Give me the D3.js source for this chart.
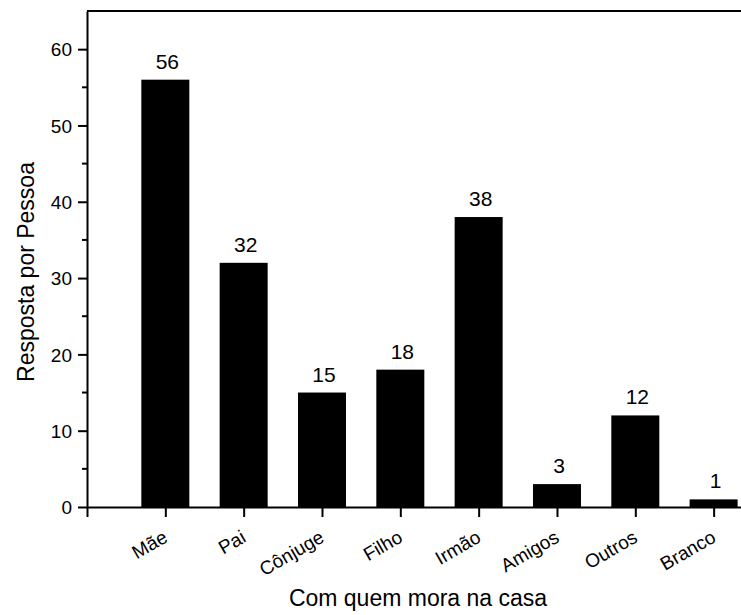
<!DOCTYPE html>
<html>
<head>
<meta charset="utf-8">
<script src="https://cdn.jsdelivr.net/npm/d3@7"></script>
<style>
  body { margin: 0; background: #fff; }
  text { font-family: "Liberation Sans", Arial, sans-serif; fill: #000; }
</style>
</head>
<body>
<svg id="chart" width="741" height="615"></svg>
<script>
// Com quem mora na casa
const categories = ["Mãe", "Pai", "Cônjuge", "Filho", "Irmão", "Amigos", "Outros", "Branco"];
const values = [56, 32, 15, 18, 38, 3, 12, 1];
const yTicks = [0, 10, 20, 30, 40, 50, 60];
const yMinorTicks = [5, 15, 25, 35, 45, 55];

const svg = d3.select("#chart");
const margin = { top: 11, left: 87, bottom: 507 };

// categories sit at 1..8, axis runs 0..9 (right side falls off the page like the original)
const x = d3.scaleLinear()
  .domain([0, categories.length + 1])
  .range([margin.left, margin.left + 78.33 * (categories.length + 1)]);

const y = d3.scaleLinear()
  .domain([0, 65])
  .range([margin.bottom, margin.top]);

const barWidth = 48;

// bars
svg.selectAll("rect.bar")
  .data(values)
  .enter()
  .append("rect")
  .attr("class", "bar")
  .attr("x", (d, i) => x(i + 1) - barWidth / 2)
  .attr("y", d => y(d))
  .attr("width", barWidth)
  .attr("height", d => y(0) - y(d))
  .attr("fill", "#000");

// value labels
svg.selectAll("text.val")
  .data(values)
  .enter()
  .append("text")
  .attr("class", "val")
  .attr("x", (d, i) => x(i + 1) + 2)
  .attr("y", d => y(d) - 11)
  .attr("text-anchor", "middle")
  .style("font-size", "21px")
  .text(d => d);

// y axis
const yAxis = svg.append("g")
  .attr("transform", `translate(${margin.left},0)`)
  .call(d3.axisLeft(y).tickValues(yTicks).tickSize(9).tickPadding(6).tickSizeOuter(0));
yAxis.select(".domain").attr("stroke-width", 2);
yAxis.selectAll(".tick line").attr("stroke-width", 2);
yAxis.selectAll(".tick text").style("font-size", "19px").attr("dy", "0.35em");

svg.append("g")
  .selectAll("line")
  .data(yMinorTicks)
  .enter()
  .append("line")
  .attr("x1", margin.left - 5)
  .attr("x2", margin.left)
  .attr("y1", d => y(d))
  .attr("y2", d => y(d))
  .attr("stroke", "#000")
  .attr("stroke-width", 2);

// x axis
const xAxis = svg.append("g")
  .attr("transform", `translate(0,${margin.bottom})`)
  .call(d3.axisBottom(x)
    .tickValues(d3.range(0, categories.length + 1))
    .tickSize(10)
    .tickSizeOuter(0)
    .tickFormat(d => d === 0 ? "" : categories[d - 1]));
xAxis.select(".domain").attr("stroke-width", 2);
xAxis.selectAll(".tick line").attr("stroke-width", 2);
xAxis.selectAll(".tick text")
  .style("font-size", "19px")
  .attr("text-anchor", "end")
  .attr("y", 0)
  .attr("dy", 0)
  .attr("transform", "translate(3,34) rotate(-30)");

// top frame line
svg.append("line")
  .attr("x1", margin.left)
  .attr("x2", x(categories.length + 1))
  .attr("y1", y(65))
  .attr("y2", y(65))
  .attr("stroke", "#000")
  .attr("stroke-width", 2);

// axis titles
svg.append("text")
  .attr("x", 418)
  .attr("y", 606)
  .attr("text-anchor", "middle")
  .style("font-size", "23px")
  .text("Com quem mora na casa");

svg.append("text")
  .attr("transform", "translate(34,272) rotate(-90)")
  .attr("text-anchor", "middle")
  .style("font-size", "23px")
  .text("Resposta por Pessoa");
</script>
</body>
</html>
